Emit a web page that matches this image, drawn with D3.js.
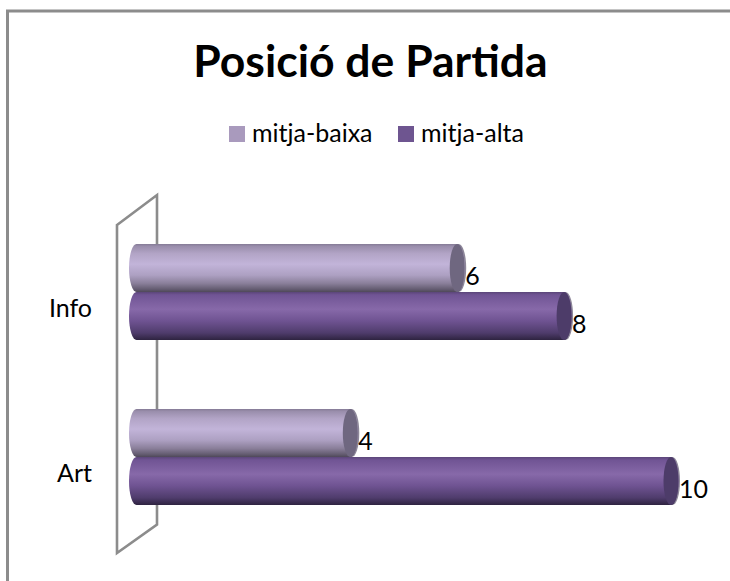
<!DOCTYPE html>
<html><head><meta charset="utf-8">
<script src="https://cdn.jsdelivr.net/npm/d3@7/dist/d3.min.js"></script>
<style>html,body{margin:0;padding:0;background:#fff}svg{display:block}text{font-family:Lato,"Open Sans",sans-serif;fill:#000}</style>
</head><body><div id="c"></div>
<script>
const title = "Posició de Partida";
const categories = ["Info", "Art"];
const seriesNames = ["mitja-baixa", "mitja-alta"];
const mitjaBaixa = [6, 4];
const mitjaAlta = [8, 10];
const seriesValues = [mitjaBaixa, mitjaAlta];

const W = 730, H = 581;
const svg = d3.select("#c").append("svg").attr("width", W).attr("height", H);
const defs = svg.append("defs");

const swatchColors = ["#a99abd", "#6e5590"];
const capColors = ["#6f6780", "#4d3c69"];
const rimColors = ["#8d8799", "#8d8799"];
const gradients = [
  [[0,"#857b96"],[0.05,"#9a8eac"],[0.2,"#b2a4c6"],[0.42,"#c2b4d9"],[0.65,"#ada0c2"],[0.82,"#8a7f9a"],[0.94,"#655d72"],[1,"#4f4859"]],
  [[0,"#5b4679"],[0.06,"#705494"],[0.36,"#8769a9"],[0.6,"#6f5392"],[0.85,"#4f3c6c"],[1,"#2e2340"]]
];
gradients.forEach((stops, i) => {
  const g = defs.append("linearGradient").attr("id", "g" + i)
    .attr("x1", 0).attr("x2", 0).attr("y1", 0).attr("y2", 1);
  stops.forEach(s => g.append("stop").attr("offset", s[0]).attr("stop-color", s[1]));
});

// scales
const x = d3.scaleLinear().domain([0, 10]).range([136.5, 671]);
const y0 = d3.scaleBand().domain(categories).range([209.5, 539.5]).paddingInner(0.418).paddingOuter(0.209);
const y1 = d3.scaleBand().domain(seriesNames).range([0, y0.bandwidth()]);
const rx = 7.5;

// chart frame
svg.append("path").attr("d", "M7.5,581V11H730").attr("fill", "none").attr("stroke", "#8c8c8c").attr("stroke-width", 3);

// 3D back wall
svg.append("path").attr("d", "M117,225L157,195V524.5L117,553Z")
  .attr("fill", "none").attr("stroke", "#8c8c8c").attr("stroke-width", 2.6);

// category axis
const axis = d3.axisLeft(y0).tickSize(0).tickPadding(0);
const axG = svg.append("g").attr("transform", "translate(92,17)").call(axis);
axG.select(".domain").remove();
axG.selectAll("text").style("font-size", "25px").style("font-family", "Lato,sans-serif").attr("fill", "#000");

// bars: lower series first so that caps of the upper series stay visible
[1, 0].forEach(si => {
  const name = seriesNames[si];
  const g = svg.append("g").selectAll("g").data(categories).join("g")
    .attr("transform", c => `translate(0,${y0(c) + y1(name)})`);
  const h = y1.bandwidth();
  const val = (c) => seriesValues[si][categories.indexOf(c)];
  g.append("ellipse").attr("cx", c => x(val(c)) + 1.5).attr("cy", h / 2).attr("rx", rx).attr("ry", h / 2)
    .attr("fill", rimColors[si]);
  g.append("path").attr("d", c => {
      const xv = x(val(c)), x0 = x(0);
      return `M${x0},0L${xv},0A${rx},${h/2} 0 0 1 ${xv},${h}L${x0},${h}A${rx},${h/2} 0 0 1 ${x0},0Z`;
    }).attr("fill", `url(#g${si})`);
  g.append("ellipse").attr("cx", c => x(val(c))).attr("cy", h / 2).attr("rx", rx).attr("ry", h / 2)
    .attr("fill", capColors[si]);
  g.append("text").attr("x", c => x(val(c)) + 8).attr("y", h / 2 + 17)
    .style("font-size", "25px").text(c => val(c));
});

// title
svg.append("text").attr("x", 370.5).attr("y", 77).attr("text-anchor", "middle")
  .style("font-size", "44.5px").style("font-weight", "700").text(title);

// legend
const legendX = [229, 398];
seriesNames.forEach((n, i) => {
  svg.append("rect").attr("x", legendX[i]).attr("y", 126).attr("width", 16).attr("height", 16).attr("fill", swatchColors[i]);
  svg.append("text").attr("x", legendX[i] + 23).attr("y", 142).style("font-size", "25px").text(n);
});
</script></body></html>
